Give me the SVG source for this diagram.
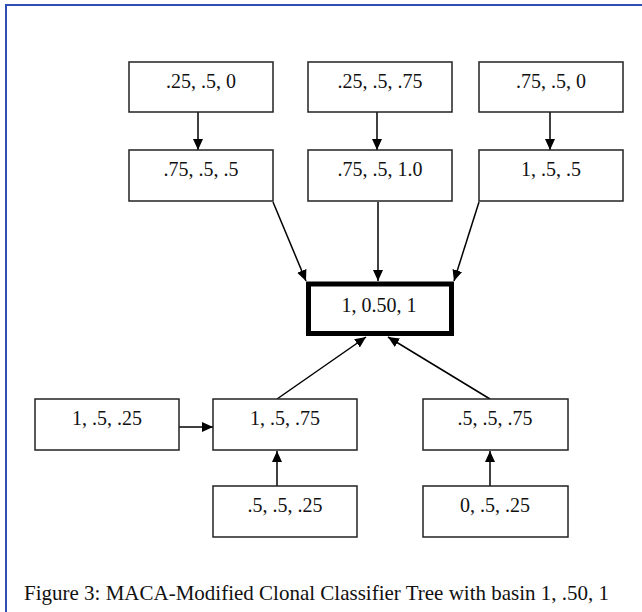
<svg xmlns="http://www.w3.org/2000/svg" width="642" height="612" viewBox="0 0 642 612">
<style>
.box{fill:#fff;stroke:#222;stroke-width:1.5}
.core{fill:#fff;stroke:#000;stroke-width:5}
.t{font-family:"Liberation Serif","Times New Roman",serif;font-size:20px;fill:#111;text-anchor:middle}
.cap{font-family:"Liberation Serif","Times New Roman",serif;font-size:21px;fill:#111}
.c{stroke:#000;stroke-width:1.5;fill:none;marker-end:url(#ah)}
</style>
<defs>
<marker id="ah" markerUnits="userSpaceOnUse" markerWidth="12" markerHeight="12" refX="11" refY="5" orient="auto" viewBox="0 0 12 10">
<path d="M0,0 L11,5 L0,10 Z" fill="#000"/>
</marker>
</defs>
<rect width="642" height="612" fill="#fff"/>
<path d="M6,612 V5 H642" fill="none" stroke="#2f4fb5" stroke-width="2"/>

<g id="connectors">
<line class="c" x1="198" y1="112" x2="198" y2="150"/>
<line class="c" x1="377" y1="112" x2="377" y2="150"/>
<line class="c" x1="550" y1="112" x2="550" y2="150"/>
<line class="c" x1="273" y1="202" x2="306" y2="281"/>
<line class="c" x1="378" y1="202" x2="378" y2="281"/>
<line class="c" x1="479" y1="202" x2="454" y2="281"/>
<line class="c" x1="179" y1="427" x2="213" y2="427"/>
<line class="c" x1="277" y1="486" x2="277" y2="451"/>
<line class="c" x1="490" y1="486" x2="490" y2="451"/>
<line class="c" x1="277" y1="399" x2="366" y2="337"/>
<line class="c" x1="490" y1="399" x2="388" y2="337"/>
</g>

<g id="n1"><rect class="box" x="129" y="62" width="144" height="50"/><text class="t" x="201" y="88">.25, .5, 0</text></g>
<g id="n2"><rect class="box" x="308" y="62" width="144" height="50"/><text class="t" x="380" y="88">.25, .5, .75</text></g>
<g id="n3"><rect class="box" x="479" y="62" width="144" height="50"/><text class="t" x="551" y="88">.75, .5, 0</text></g>
<g id="n4"><rect class="box" x="129" y="150" width="144" height="51"/><text class="t" x="201" y="176">.75, .5, .5</text></g>
<g id="n5"><rect class="box" x="308" y="150" width="144" height="51"/><text class="t" x="380" y="176">.75, .5, 1.0</text></g>
<g id="n6"><rect class="box" x="479" y="150" width="144" height="51"/><text class="t" x="551" y="176">1, .5, .5</text></g>
<g id="core"><rect class="core" x="308.5" y="284" width="143" height="49.5"/><text class="t" x="379" y="312">1, 0.50, 1</text></g>
<g id="n7"><rect class="box" x="35" y="399" width="144" height="51"/><text class="t" x="107" y="425">1, .5, .25</text></g>
<g id="n8"><rect class="box" x="213" y="399" width="144" height="51"/><text class="t" x="285" y="425">1, .5, .75</text></g>
<g id="n9"><rect class="box" x="423" y="399" width="145" height="51"/><text class="t" x="495" y="425">.5, .5, .75</text></g>
<g id="n10"><rect class="box" x="213" y="486" width="144" height="51"/><text class="t" x="285" y="512">.5, .5, .25</text></g>
<g id="n11"><rect class="box" x="423" y="486" width="145" height="51"/><text class="t" x="495" y="512">0, .5, .25</text></g>

<text class="cap" x="24" y="600">Figure 3: MACA-Modified Clonal Classifier Tree with basin 1, .50, 1</text>
</svg>
